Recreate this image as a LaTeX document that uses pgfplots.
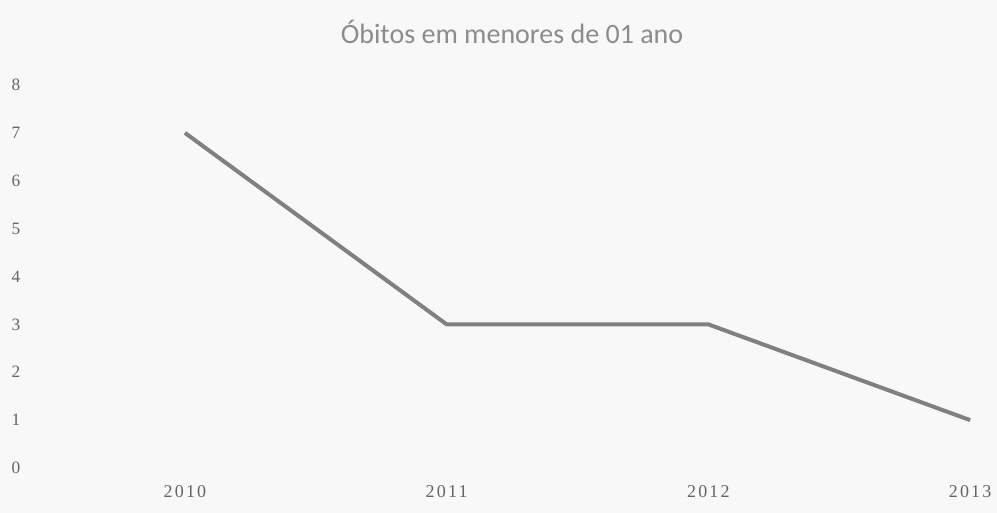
\documentclass[border=0pt]{standalone}
\usepackage{pgfplots}
\pgfplotsset{compat=1.18}
\usepackage{fontspec}
\setmainfont{Liberation Serif}
\newfontfamily\titlefont{Carlito}
\newfontfamily\xlabfont[LetterSpace=12]{Liberation Serif}
\definecolor{bg}{RGB}{248,248,248}
\definecolor{linegray}{RGB}{128,128,128}
\definecolor{ticktext}{RGB}{100,100,100}
\definecolor{titletext}{RGB}{140,140,140}
\begin{document}
\begin{tikzpicture}
\fill[bg] (0,0) rectangle (747.75pt,384.75pt);
\useasboundingbox (0,0) rectangle (747.75pt,384.75pt);
\node[text=titletext, font=\titlefont\fontsize{21}{25}\selectfont, anchor=center] at (384pt,361pt) {Óbitos em menores de 01 ano};
\begin{axis}[
  at={(22.5pt,33.75pt)}, anchor=south west,
  scale only axis, width=716.25pt, height=287.25pt,
  xmin=2009.408, xmax=2013.057, ymin=0, ymax=8,
  xtick={2010,2011,2012,2013},
  xticklabels={2010,2011,2012,2013},
  ytick={0,1,...,8},
  axis line style={draw=none},
  tick style={draw=none},
  clip=false,
  xticklabel style={anchor=center, yshift=-17.5pt, text=ticktext, font=\xlabfont\fontsize{13.5}{15}\selectfont},
  yticklabel style={anchor=center, xshift=-10.5pt, text=ticktext, font=\fontsize{13}{15}\selectfont},
  /pgf/number format/assume math mode=true,
]
\addplot[linegray, line width=3pt, line join=round] coordinates {
(2010,7) (2011,3) (2012,3) (2013,1)
};
\end{axis}
\end{tikzpicture}
\end{document}
